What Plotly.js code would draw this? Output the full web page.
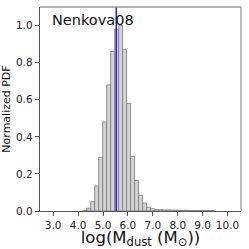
<!DOCTYPE html>
<html>
<head>
<meta charset="utf-8">
<script src="https://cdn.plot.ly/plotly-3.0.1.min.js"></script>
<style>html,body{margin:0;padding:0;background:#fff;}#chart{width:249px;height:249px;}</style>
</head>
<body>
<div id="chart"></div>
<script>
// Histogram bin centres (log M_dust) and normalized PDF heights
const binCenters = [4.266, 4.426, 4.586, 4.746, 4.906, 5.066, 5.226, 5.386, 5.546, 5.706,
  5.866, 6.026, 6.186, 6.346, 6.506, 6.666, 6.826, 6.986,
  7.146, 7.306, 7.466, 7.626, 7.786, 7.946, 8.106, 8.266, 8.426, 8.586, 8.746, 8.906, 9.066, 9.226, 9.386];
const pdfValues = [0.004, 0.015, 0.05, 0.135, 0.29, 0.48, 0.68, 0.86, 0.98, 1.0,
  0.87, 0.58, 0.295, 0.165, 0.085, 0.043, 0.021, 0.012,
  0.008, 0.007, 0.006, 0.006, 0.005, 0.005, 0.004, 0.004, 0.004, 0.003, 0.003, 0.003, 0.003, 0.002, 0.002];
const binWidth = 0.16;
const bestFit = 5.53;
const xTicks = [3, 4, 5, 6, 7, 8, 9, 10];
const xTickLabels = ["3.0", "4.0", "5.0", "6.0", "7.0", "8.0", "9.0", "10.0"];
const yTicks = [0, 0.2, 0.4, 0.6, 0.8, 1.0];
const yTickLabels = ["0.0", "0.2", "0.4", "0.6", "0.8", "1.0"];
const modelName = "Nenkova08";

const font = "DejaVu Sans, sans-serif";
const data = [{
  type: "bar",
  x: binCenters,
  y: pdfValues,
  width: binWidth,
  marker: {color: "#d3d3d3", line: {color: "#7a7a7a", width: 0.8}},
  hoverinfo: "skip"
}];

const layout = {
  width: 249, height: 249,
  margin: {l: 40, r: 8, t: 7, b: 38},
  paper_bgcolor: "#fff", plot_bgcolor: "#fff",
  showlegend: false,
  bargap: 0,
  font: {family: font, color: "#222"},
  xaxis: {
    range: [2.47, 10.54],
    tickvals: xTicks, ticktext: xTickLabels,
    ticks: "outside", ticklen: 4, tickwidth: 1, tickcolor: "#555",
    tickfont: {size: 10.5, family: font, color: "#222"},
    showline: true, linecolor: "#555", linewidth: 1.3,
    showgrid: false, zeroline: false,
    title: {text: "log(M<sub>dust</sub> (M<sub>⊙</sub>))", font: {size: 16.5, family: font, color: "#111"}, standoff: 4}
  },
  yaxis: {
    range: [0, 1.1],
    tickvals: yTicks, ticktext: yTickLabels,
    ticks: "outside", ticklen: 4, tickwidth: 1, tickcolor: "#555",
    tickfont: {size: 10.5, family: font, color: "#222"},
    showline: true, linecolor: "#555", linewidth: 1.3,
    showgrid: false, zeroline: false,
    title: {text: "Normalized PDF", font: {size: 11, family: font, color: "#111"}, standoff: 4}
  },
  shapes: [
    {type: "line", xref: "x", yref: "paper", x0: bestFit, x1: bestFit, y0: 0, y1: 1, line: {color: "#0000ff", width: 1.3}},
    {type: "line", xref: "paper", yref: "paper", x0: 0, x1: 1, y0: 1, y1: 1, line: {color: "#999", width: 1.3}},
    {type: "line", xref: "paper", yref: "paper", x0: 1, x1: 1, y0: 0, y1: 1, line: {color: "#999", width: 1.3}}
  ],
  annotations: [{
    text: modelName, xref: "paper", yref: "paper", x: 0.05, y: 0.985,
    xanchor: "left", yanchor: "top", showarrow: false,
    font: {size: 14.5, family: font, color: "#111"}
  }]
};

Plotly.newPlot("chart", data, layout, {staticPlot: true, displayModeBar: false});
</script>
</body>
</html>
